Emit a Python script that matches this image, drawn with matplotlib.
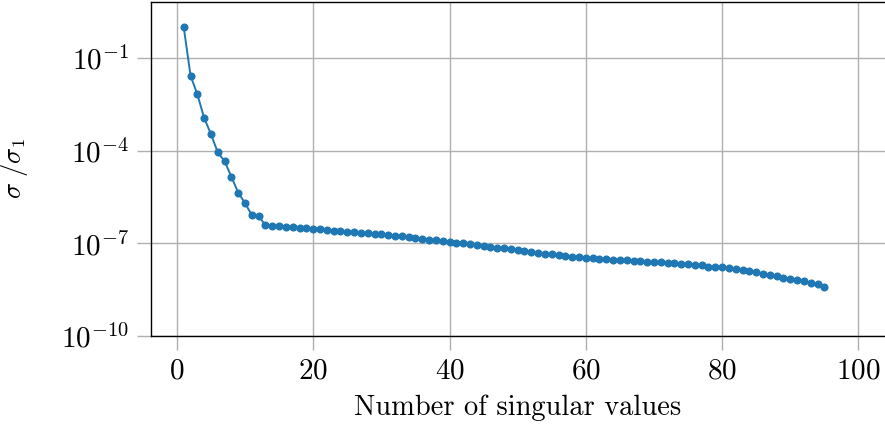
import numpy as np
import matplotlib
matplotlib.use("Agg")
import matplotlib.pyplot as plt
import matplotlib.ticker as mticker

plt.rcParams['font.family'] = ['cmr10', 'DejaVu Serif']
plt.rcParams['mathtext.fontset'] = 'cm'
plt.rcParams['axes.formatter.use_mathtext'] = True

# index of singular value and log10(sigma / sigma_1)
n_sv = list(range(1, 96))
log_ratio = [
    0.00, -1.57, -2.18, -2.94, -3.47, -4.06, -4.34, -4.85, -5.36, -5.70,
    -6.09, -6.12, -6.42, -6.43, -6.44, -6.46, -6.47, -6.49, -6.52, -6.54,
    -6.55, -6.57, -6.59, -6.61, -6.62, -6.65, -6.66, -6.68, -6.69, -6.70,
    -6.72, -6.75, -6.76, -6.80, -6.82, -6.86, -6.88, -6.90, -6.93, -6.96,
    -6.98, -7.00, -7.02, -7.06, -7.08, -7.11, -7.14, -7.16, -7.20, -7.22,
    -7.25, -7.27, -7.30, -7.34, -7.36, -7.39, -7.42, -7.43, -7.44, -7.48,
    -7.49, -7.50, -7.52, -7.53, -7.54, -7.55, -7.56, -7.58, -7.59, -7.61,
    -7.62, -7.64, -7.65, -7.66, -7.67, -7.69, -7.71, -7.76, -7.76, -7.77,
    -7.81, -7.84, -7.86, -7.90, -7.94, -7.98, -8.03, -8.05, -8.11, -8.14,
    -8.18, -8.21, -8.28, -8.33, -8.42,
]
sigma_ratio = 10.0 ** np.array(log_ratio)

fig = plt.figure(figsize=(8.85, 4.28), dpi=100)
ax = fig.add_axes([151 / 885, 1 - 336 / 428, 734 / 885, 334 / 428])

ax.plot(n_sv, sigma_ratio, color='#1f77b4', lw=1.4, marker='o', ms=4.8, zorder=3)

ax.set_yscale('log')
ax.set_ylim(1e-10, 10 ** 0.81)
ax.set_xlim(-3.8, 103.9)
ax.yaxis.set_major_locator(mticker.FixedLocator([1e-10, 1e-7, 1e-4, 1e-1]))
ax.yaxis.set_minor_locator(mticker.NullLocator())
ax.set_xticks([0, 20, 40, 60, 80, 100])

ax.grid(True, color='#b0b0b0', lw=1)
ax.tick_params(axis='both', which='major', length=10, width=1, color='#b0b0b0',
               labelsize=21, pad=6)
ax.spines['right'].set_visible(False)
for s in ['left', 'top', 'bottom']:
    ax.spines[s].set_linewidth(1)

ax.set_xlabel('Number of singular values', fontsize=20.5, labelpad=7)
ax.set_ylabel(r'$\sigma\ /\sigma_1$', fontsize=19, labelpad=22)

fig.savefig('out.png', dpi=100)
